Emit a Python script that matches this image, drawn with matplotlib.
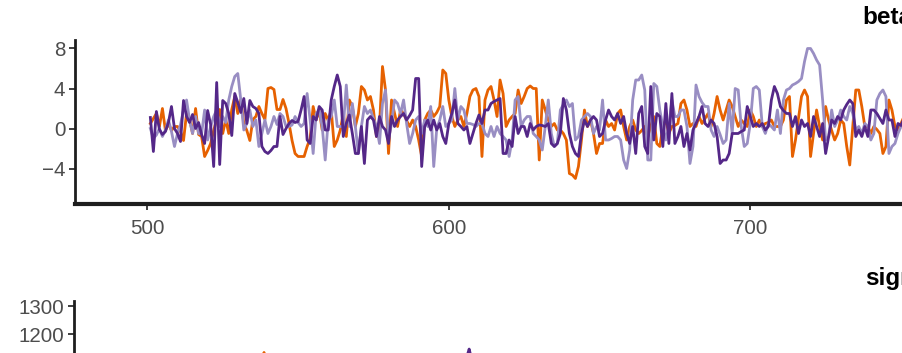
import numpy as np
import matplotlib
matplotlib.use("Agg")
import matplotlib.pyplot as plt

plt.rcParams['font.family'] = ['Liberation Sans', 'DejaVu Sans']

# ---------------- data ----------------
start_iter = 501
x_ticks = [500, 600, 700, 800, 900, 1000]
beta_ticks = [-4, 0, 4, 8]
sigma_ticks = [1100, 1200, 1300]
chain_colors = ["#e66101", "#998ec3", "#542788"]
panel_titles = ["beta", "sigma"]

beta_chain1 = [
    # 501-550
    0.5, 1.0, 1.5, 0.2, 2.0, -0.2, 0.5, -0.2, 0.2, 0.2, -0.3, -1.2, 1.5, 0.9, -0.5, 2.0, -0.6, -0.8, -2.8, -2.2,
    -1.5, -0.2, 0.9, 1.9, -0.5, 0.9, -0.5, 1.9, 3.2, 1.5, 2.9, 0.5, -0.2, -1.2, 0.9, 1.2, 2.2, 1.5, 0.9, 4.0,
    4.1, 3.9, 1.9, 1.9, 2.9, 2.0, 0.5, -1.2, -2.5, -2.8,
    # 551-650
    -2.8, -2.8, -1.8, -1.0, 2.2, 0.85, 1.85, -0.15, 1.5, 0.8,
    1.85, -1.8, -1.15, -0.15, 1.5, -0.8, 2.85, 2.2, 0.2, 1.5,
    4.2, 3.85, 2.85, 3.2, 1.85, -0.8, 0.2, 6.2, 3.85, -2.5,
    2.85, 1.5, 0.2, 1.85, 1.5, 0.8, 0.2, 0.85, 0.2, -1.15,
    -2.8, 0.85, 1.5, 1.85, 1.2, 1.6, 2.2, 5.85, 5.5, 2.85,
    1.2, 0.2, 0.85, 1.2, 0.2, 1.5, 3.2, 3.85, 4.0, 3.2,
    -2.8, 2.85, 3.85, 4.2, 2.85, 1.2, 4.85, 3.5, 0.2, 0.85,
    1.2, 1.5, 3.85, 2.5, 3.2, 4.0, 4.25, 4.0, 4.0, -3.15,
    2.85, 1.85, 0.85, 0.2, 0.5, -0.15, -0.15, -0.5, -1.15, -4.5,
    -4.65, -5.0, -3.8, -1.15, 1.85, 0.2, 0.85, -0.5, -2.5, -1.5,
    # 651-750
    -1.5, 0.85, 0.2, 0.5, -0.15, 1.5, 1.85, 0.2, -1.15, 0.2,
    0.85, -0.15, -0.5, -0.2, 0.2, -0.8, 0.2, 1.2, -1.5, -1.8,
    0.2, 0.85, -0.5, 0.2, 0.3, 0.5, 2.5, 2.85, 1.85, 0.2,
    0.5, 0.2, 1.2, 0.5, 1.0, 1.5, 0.2, 1.5, 3.2, 1.85,
    0.85, 1.85, 2.85, 2.2, 1.2, 0.2, 0.85, 0.5, 0.2, 1.85,
    1.2, 0.2, 0.85, 0.2, 0.5, 0.6, 0.85, 0.2, 0.2, 0.2,
    0.85, 2.85, 3.2, -2.8, -1.15, 1.0, 3.2, 3.85, 3.2, -2.8,
    -0.5, 1.85, 0.2, -1.15, 2.2, 0.85, -0.2, -1.15, -0.5, 0.85,
    0.5, -1.8, -3.65, 0.2, 3.85, 3.85, 2.2, 0.2, 0.2, -0.5,
    0.2, -0.1, -0.5, -2.5, -1.8, 2.85, 1.85, 0.2, -0.15, 0.5,
    # 751-
    1.2, -0.8, 0.6, 1.5, -0.3,
]

beta_chain2 = [
    # 501-550
    0.0, -1.0, -0.65, 0.0, -0.8, -0.15, 0.85, -0.3, -1.8, -0.5, 0.4, 1.85, 2.85, 0.85, -0.5, 1.2, -0.5, -0.5, 1.85, -1.15,
    0.2, 1.2, 1.85, 0.2, 1.2, 0.6, 2.85, 4.2, 5.2, 5.5, 2.85, -0.15, 0.5, 1.85, 0.2, 0.85, -1.8, -0.5, 0.85, -0.5,
    0.2, 1.2, 0.4, 1.5, 1.2, 0.2, 0.2, 0.35, 1.2, 0.6,
    # 551-650
    0.2, 0.5, 3.5, 0.85, -2.5, 1.5, 1.85, 0.2, -3.15, 0.85,
    1.2, 2.85, 0.2, 0.2, 0.2, 4.35, 0.2, 2.5, 0.2, -2.5,
    0.2, 2.2, 1.5, 1.85, 1.0, 0.2, -1.5, 2.5, 3.85, -1.15,
    0.5, 2.85, 2.5, 1.5, 2.85, 0.5, -1.5, -0.5, 0.85, 1.2,
    -0.5, 0.85, 0.2, 2.2, -3.8, 0.0, 0.85, 2.2, 0.2, 0.5,
    0.85, 4.0, 0.85, 2.2, 1.85, 0.5, 0.5, 0.4, 0.2, 0.5,
    0.5, -0.5, -0.8, 0.2, -0.8, 0.2, -0.5, -0.8, -1.15, -2.8,
    -1.15, 2.85, 3.2, 0.2, 0.85, 1.2, 1.2, -0.5, -0.8, -1.15,
    -2.15, 0.2, 2.85, -0.5, -1.8, -1.5, 1.85, 2.4, 2.85, 2.2,
    2.5, -1.15, -0.8, 0.85, 1.2, 1.5, 1.2, -0.5, 0.2, -0.15,
    # 651-750
    2.85, -1.15, -1.15, -1.0, -0.8, -0.8, -1.15, -3.15, -4.0, -2.15,
    2.85, 4.85, 4.85, 5.35, 3.85, -3.15, -3.15, 4.5, 4.2, 1.85,
    0.2, -1.15, 0.2, 2.85, 1.2, 1.2, 1.85, 1.85, 0.2, -3.5,
    -1.8, 4.35, 3.2, 2.6, 2.2, 2.2, -0.15, -0.8, 0.2, -0.6,
    -1.5, -1.15, 2.5, -0.5, 4.0, 3.85, 0.2, -1.8, -1.5, 0.5,
    4.0, 4.2, 3.85, 0.2, -0.5, 0.5, 0.2, -0.15, 1.85, -0.5,
    2.85, 3.85, 4.0, 4.35, 4.5, 4.7, 5.0, 6.7, 8.0, 8.0,
    7.5, 6.85, 6.35, 2.85, -1.15, -0.8, 1.85, 0.2, 0.85, 1.85,
    1.2, 0.85, 2.2, 1.5, -0.15, 0.2, -0.5, 0.5, 0.2, -1.15,
    -0.5, 2.85, 3.5, 3.85, 3.2, -2.5, -1.8, -1.5, -0.5, 0.2,
    # 751-
    0.8, -0.4, 1.1, 0.3, -0.6,
]

beta_chain3 = [
    # 501-550
    1.1, -2.3, 1.7, -0.1, -0.6, -0.3, 0.6, 2.2, 0.0, -0.5, -1.3, 2.8, 1.2, 0.6, 1.4, 0.0, 0.6, -0.6, -1.5, 1.8,
    0.4, -3.8, 4.6, -3.6, 2.8, 2.5, 1.5, -0.7, 3.5, 2.6, 1.6, 3.0, 0.5, 2.8, 2.2, 2.0, 1.5, -1.8, -2.3, -2.5,
    -2.2, -1.8, -1.8, 1.2, -0.6, 0.0, 0.5, 0.8, 0.6, 0.7,
    # 551-650
    1.85, 3.2, -1.15, -1.5, 1.2, 0.85, 2.2, 1.85, -0.15, -0.15,
    2.85, 4.2, 5.35, 4.2, -0.8, 0.5, 1.35, -0.5, -2.5, -2.5,
    0.2, -3.5, 0.85, 1.2, 0.85, -0.8, 1.2, 0.2, -0.15, -1.5,
    1.2, 0.2, 0.85, 1.2, 1.5, 0.85, 1.3, 1.85, 5.0, 5.0,
    -3.8, 0.2, 0.85, -0.15, 0.85, -0.15, 0.5, -0.8, -1.5, 0.5,
    1.5, 2.85, 0.5, 0.2, -0.15, 0.2, -1.5, -0.5, 0.5, 1.35,
    0.5, 1.85, 1.85, 2.5, 2.7, 2.85, 3.0, -2.5, -2.5, -1.15,
    -1.8, 1.2, -0.5, 0.2, 0.2, -0.8, 0.5, -0.15, 0.2, 0.35,
    0.3, 0.2, 0.5, -1.5, -1.8, -1.5, -0.5, 3.0, 1.85, -0.5,
    -1.8, -2.5, -2.8, -0.5, 0.85, 0.2, 0.85, 1.2, 0.85, -0.8,
    # 651-750
    -0.5, 0.85, 1.85, 1.2, 0.85, 1.5, 0.5, 1.2, -0.5, -1.5,
    0.2, -2.5, 1.5, 2.2, -1.8, -2.5, 4.2, -1.15, 1.5, 1.2,
    -1.8, 2.5, -1.5, 3.5, -1.5, -0.8, 0.2, -1.8, -0.5, -2.15,
    -0.15, 0.5, 1.2, 2.2, 0.5, 0.2, 0.85, 0.5, -0.8, -3.5,
    -3.15, -3.15, -2.5, -0.5, -0.5, -0.5, -0.3, -0.15, 2.2, 1.2,
    0.2, 0.5, 0.2, 0.5, -0.15, 0.2, 2.85, 4.2, 3.5, 2.2,
    1.8, 1.5, 1.5, 0.2, 1.2, -0.5, 0.85, 0.2, 0.5, -0.8,
    1.2, 0.2, -0.8, 0.5, -2.5, -0.8, 0.85, 0.5, 1.2, 0.85,
    1.85, 2.4, 2.85, 2.5, -0.8, -0.15, -0.8, 0.2, -0.8, 1.85,
    1.85, 1.5, 1.0, 0.5, 1.85, 0.85, 0.85, -0.8, 0.5, 0.3,
    # 751-
    1.0, -0.6, 0.9, 0.2, -0.4,
]

# sigma traces: only the part that reaches into the visible window
sigma_chain1_start = 537
sigma_chain1 = [1040, 1095, 1136, 1085, 1030]
sigma_chain3_start = 605
sigma_chain3 = [1060, 1112, 1148, 1104, 1050]

# ---------------- figure ----------------
W, H = 902, 353
fig = plt.figure(figsize=(W / 100, H / 100), dpi=100)

def px_axes(left, top, right, bottom):
    return fig.add_axes([left / W, 1 - bottom / H, (right - left) / W, (bottom - top) / H])

spine_col = "#1e1e1e"
tick_col = "#4d4d4d"

ax1 = px_axes(75, 40, 1730, 204)
ax2 = px_axes(74, 301, 1730, 476)

for ax in (ax1, ax2):
    for s in ("top", "right"):
        ax.spines[s].set_visible(False)
    ax.spines["left"].set_color(spine_col)
    ax.spines["bottom"].set_color(spine_col)
    ax.spines["left"].set_linewidth(2.0)
    ax.spines["bottom"].set_linewidth(3.0)
    ax.tick_params(axis="both", colors=spine_col, labelcolor=tick_col,
                   labelsize=14.8, length=4, width=1.2)
    ax.tick_params(axis="x", pad=7)
    ax.tick_params(axis="y", pad=3)
    ax.set_xlim(476, 1025)
    ax.set_xticks(x_ticks)

beta_series = [beta_chain1, beta_chain2, beta_chain3]
for vals, col in zip(beta_series, chain_colors):
    it = start_iter + np.arange(len(vals))
    ax1.plot(it, vals, color=col, lw=2.0, solid_joinstyle="round")
ax1.set_ylim(-7.55, 8.85)
ax1.set_yticks(beta_ticks)
ax1.set_yticklabels(["\u22124" if t == -4 else str(t) for t in beta_ticks])

ax2.plot(sigma_chain1_start + np.arange(len(sigma_chain1)), sigma_chain1, color=chain_colors[0], lw=2.0)
ax2.plot(sigma_chain3_start + np.arange(len(sigma_chain3)), sigma_chain3, color=chain_colors[2], lw=2.0)
ax2.set_ylim(700, 1317.7)
ax2.set_yticks(sigma_ticks)

fig.text(862 / W, 1 - 18 / H, panel_titles[0], fontsize=17.5, fontweight="bold",
         ha="left", va="center", color="black")
fig.text(865 / W, 1 - 279 / H, panel_titles[1], fontsize=17.5, fontweight="bold",
         ha="left", va="center", color="black")

fig.savefig("out.png", dpi=100)
